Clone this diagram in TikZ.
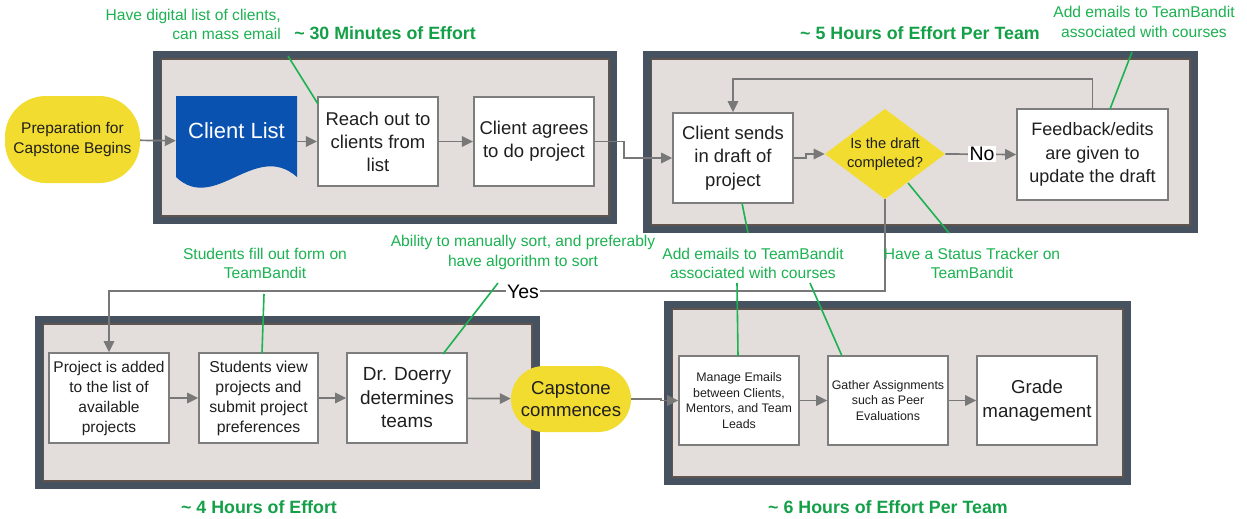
\documentclass[tikz,border=0pt]{standalone}
\usepackage{fontspec}
\setmainfont{Liberation Sans}
\usetikzlibrary{arrows.meta,shapes.geometric}

\definecolor{framedark}{RGB}{70,82,95}
\definecolor{framebrown}{RGB}{96,84,78}
\definecolor{framefill}{RGB}{227,222,219}
\definecolor{boxline}{RGB}{125,125,125}
\definecolor{conngray}{RGB}{120,120,120}
\definecolor{capyellow}{RGB}{242,220,48}
\definecolor{docblue}{RGB}{10,82,176}
\definecolor{notegreen}{RGB}{28,178,82}
\definecolor{headgreen}{RGB}{20,160,72}

\newcommand{\fs}[2]{\fontsize{#1}{#2}\selectfont}

\tikzset{
  stepbox/.style={draw=boxline, line width=1.6pt, fill=white, inner sep=0pt,
    align=center, text=black!88},
  startstop/.style={fill=capyellow, inner sep=0pt, align=center, text=black!88},
  decision/.style={diamond, fill=capyellow, inner sep=0pt, align=center, text=black!88},
  conn/.style={draw=conngray, line width=1.7pt, -{Triangle[length=11pt,width=10.5pt]}},
  note/.style={text=notegreen, align=center, inner sep=0pt, font=\fs{15.6}{19.5}},
  noteline/.style={draw=notegreen, line width=1.6pt},
  heading/.style={text=headgreen, inner sep=0pt, font=\bfseries\fs{17.8}{21}},
  flag/.style={fill=white, inner sep=1.5pt, text=black, font=\fs{19.5}{22}},
}

% a stage: dark outer band, thin brown rule, light inner field
\newcommand{\stageframe}[4]{%
  \fill[framedark] (#1,#2) rectangle (#3,#4);
  \filldraw[fill=framefill, draw=framebrown, line width=1.4pt]
    (#1+8.5,#2+8) rectangle (#3-8,#4-8);}

\begin{document}
\begin{tikzpicture}[x=1pt,y=-1pt]
\useasboundingbox (0,0) rectangle (1247,519);
\fill[white] (0,0) rectangle (1247,519);

% stage frames
\stageframe{153}{51}{617}{224}
\stageframe{643}{51}{1198}{233}
\stageframe{35}{316}{540}{489}
\stageframe{664}{301}{1131}{485}

% client list document shape
\fill[docblue] (176,96) -- (297,96) -- (297,177)
  .. controls (255,140) and (215,214) .. (176,177) -- cycle;

% first stage
\node[startstop, rounded corners=41pt, minimum width=135pt, minimum height=87pt,
  font=\fs{15.5}{20.5}] (prep) at (72.5,139.5) {Preparation for\\Capstone Begins};
\node[inner sep=0pt, minimum width=121pt, minimum height=90pt,
  label={[text=white, font=\fs{22}{26}, yshift=11pt]center:Client List}]
  (clist) at (236.5,141.5) {};
\node[stepbox, minimum width=120.5pt, minimum height=89pt, font=\fs{18.5}{23}]
  (reach) at (378,141.5) {Reach out to\\clients from\\list};
\node[stepbox, minimum width=120.5pt, minimum height=89pt, font=\fs{18.5}{23}]
  (agrees) at (534,141.5) {Client agrees\\to do project};

% second stage
\node[stepbox, minimum width=120pt, minimum height=90pt, font=\fs{18.5}{23.5}]
  (sends) at (733,158) {Client sends\\in draft of\\project};
\node[decision, minimum width=120pt, minimum height=90pt, aspect=1.333,
  font=\fs{14.7}{19.5}] (draft) at (885,154) {Is the draft\\completed?};
\node[stepbox, minimum width=151pt, minimum height=91pt, font=\fs{18}{23.5}]
  (fb) at (1092.5,154.5) {Feedback/edits\\are given to\\update the draft};

% third stage
\node[stepbox, minimum width=120pt, minimum height=90pt, font=\fs{15.5}{20}]
  (proj) at (109,398) {Project is added\\to the list of\\available\\projects};
\node[stepbox, minimum width=119pt, minimum height=90pt, font=\fs{15.8}{20}]
  (view) at (258.5,398) {Students view\\projects and\\submit project\\preferences};
\node[stepbox, minimum width=120pt, minimum height=90pt, font=\fs{19}{23.5}]
  (doerry) at (407,398) {Dr. Doerry\\determines\\teams};
\node[startstop, rounded corners=33pt, minimum width=120pt, minimum height=66pt,
  font=\fs{18.6}{22.5}] (commence) at (571,399) {Capstone\\commences};

% fourth stage
\node[stepbox, minimum width=120pt, minimum height=89pt, font=\fs{12.4}{15.7}]
  (emails) at (739,400.5) {Manage Emails\\between Clients,\\Mentors, and Team\\Leads};
\node[stepbox, minimum width=120pt, minimum height=89pt, font=\fs{12.4}{15.7}]
  (gather) at (888,400.5) {Gather Assignments\\such as Peer\\Evaluations};
\node[stepbox, minimum width=120pt, minimum height=89pt, font=\fs{18.7}{24}]
  (grade) at (1037,400.5) {Grade\\management};

% flow connectors
\draw[conn] (prep) -- (clist);
\draw[conn] (clist) -- (reach);
\draw[conn] (reach) -- (agrees);
\draw[conn] (agrees.east) -- ++(29,0) |- (sends.west);
\draw[conn] (sends.east) -- ++(12,0) |- (draft.west);
\draw[conn] (draft.east) -- (fb.west);
\node[flag] (no) at (982,154) {No};
\draw[conn] (fb.north) -- ++(0,-29) -| (sends.north);
\coordinate (yesbend) at (885,291);
\draw[conn] (draft.south) -- (yesbend) -| (proj.north);
\node[flag] (yes) at (523,292) {Yes};
\draw[conn] (proj) -- (view);
\draw[conn] (view) -- (doerry);
\draw[conn] (doerry) -- (commence);
\draw[conn] (commence.east) -- ++(30,0) |- (emails.west);
\draw[conn] (emails) -- (gather);
\draw[conn] (gather) -- (grade);

% effort headings
\node[heading] (h1) at (385,33) {\textasciitilde\ 30 Minutes of Effort};
\node[heading] (h2) at (920,33) {\textasciitilde\ 5 Hours of Effort Per Team};
\node[heading] (h3) at (259,507) {\textasciitilde\ 4 Hours of Effort};
\node[heading] (h4) at (888,507) {\textasciitilde\ 6 Hours of Effort Per Team};

% notes
\node[note, align=right, anchor=east] (n1) at (281,24.5)
  {Have digital list of clients,\\can mass email};
\node[note] (n2) at (1144,22) {Add emails to TeamBandit\\associated with courses};
\node[note] (n3) at (753,263.5) {Add emails to TeamBandit\\associated with courses};
\node[note] (n4) at (972,263.5) {Have a Status Tracker on\\TeamBandit};
\node[note] (n5) at (265,263.5) {Students fill out form on\\TeamBandit};
\node[note] (n6) at (523,252.5) {Ability to manually sort, and preferably\\have algorithm to sort};

% note leaders
\coordinate (l1a) at (288,56);   \coordinate (l1b) at (318,104);
\coordinate (l2a) at (1132,52);  \coordinate (l2b) at (1110,109);
\coordinate (l3a) at (742,203);  \coordinate (l3b) at (748,233);
\coordinate (l4a) at (908,183);  \coordinate (l4b) at (949,233);
\coordinate (l5a) at (737,283);  \coordinate (l5b) at (738,356);
\coordinate (l6a) at (810,283);  \coordinate (l6b) at (842,356);
\coordinate (l7a) at (264,294);  \coordinate (l7b) at (262,353);
\coordinate (l8a) at (498,283);  \coordinate (l8b) at (443,354);
\draw[noteline] (l1a) -- (l1b);
\draw[noteline] (l2a) -- (l2b);
\draw[noteline] (l3a) -- (l3b);
\draw[noteline] (l4a) -- (l4b);
\draw[noteline] (l5a) -- (l5b);
\draw[noteline] (l6a) -- (l6b);
\draw[noteline] (l7a) -- (l7b);
\draw[noteline] (l8a) -- (l8b);
\end{tikzpicture}
\end{document}
